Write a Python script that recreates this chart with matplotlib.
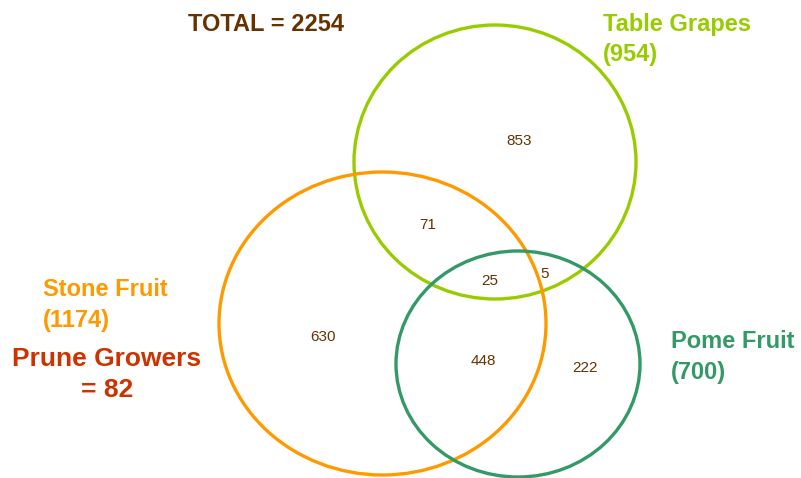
import matplotlib
matplotlib.use("Agg")
import matplotlib.pyplot as plt
from matplotlib.patches import Ellipse

# ---- data ----
set_names = ["Table Grapes", "Stone Fruit", "Pome Fruit"]
set_totals = [954, 1174, 700]
total = 2254
prune_growers = 82
region_labels = ["Grapes only", "Grapes & Stone", "Grapes & Stone & Pome",
                 "Grapes & Pome", "Stone only", "Stone & Pome", "Pome only"]
region_values = [853, 71, 25, 5, 630, 448, 222]

# ---- layout (pixel coordinates) ----
W, H = 801, 478
fig = plt.figure(figsize=(W / 100, H / 100), dpi=100)
ax = fig.add_axes([0, 0, 1, 1])
ax.set_xlim(0, W)
ax.set_ylim(H, 0)
ax.axis("off")

colors = ["#99CC00", "#FF9900", "#339966"]
ellipses = [((495, 162), 282, 274), ((382.5, 323.5), 327, 303), ((518, 364), 244, 226)]
for (c, w, h), col in zip(ellipses, colors):
    ax.add_patch(Ellipse(c, w, h, fill=False, edgecolor=col, linewidth=2.4))

region_pos = [(519, 141), (428, 225), (490, 281), (545, 274),
              (323, 337), (483, 361), (585, 368)]
brown = "#663300"
for (x, y), v in zip(region_pos, region_values):
    ax.text(x, y, str(v), ha="center", va="center", fontsize=11,
            color=brown, family="Liberation Sans")

bold = dict(family="Liberation Sans", fontweight="bold", va="center")
label_pos = [(603, 24, 54), (43, 289, 320), (671, 342, 372)]
for (x, y1, y2), name, tot, col in zip(label_pos, set_names, set_totals, colors):
    ax.text(x, y1, name, ha="left", fontsize=17, color=col, **bold)
    ax.text(x, y2, f"({tot})", ha="left", fontsize=17, color=col, **bold)

ax.text(266, 24, f"TOTAL = {total}", ha="center", fontsize=17, color=brown, **bold)
ax.text(107, 359, "Prune Growers", ha="center", fontsize=19, color="#CC3300", **bold)
ax.text(107, 390, f"= {prune_growers}", ha="center", fontsize=19, color="#CC3300", **bold)

fig.savefig("out.png", dpi=100)
